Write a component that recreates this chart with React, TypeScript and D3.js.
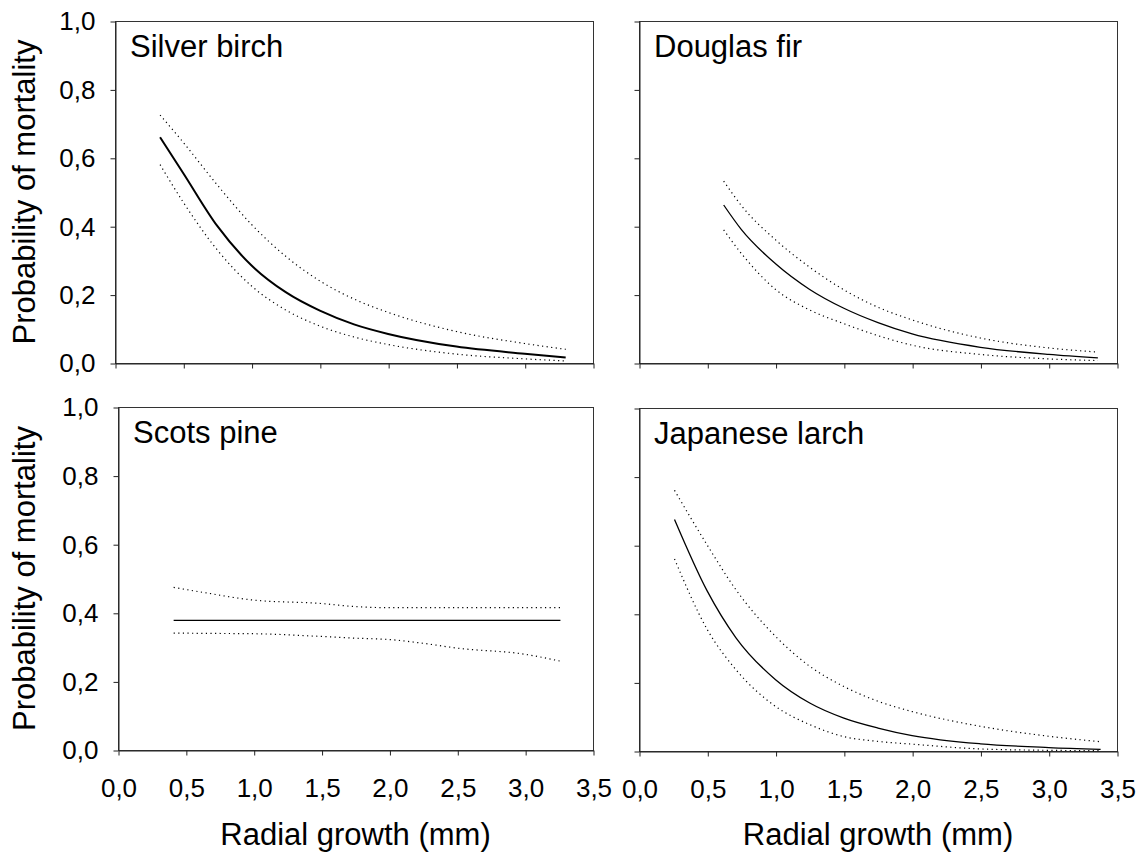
import { useEffect, useRef } from "react";
import * as d3 from "d3";

// panel titles, in reading order
const species = ["Silver birch", "Douglas fir", "Scots pine", "Japanese larch"];
const xTicks = [0, 0.5, 1, 1.5, 2, 2.5, 3, 3.5];
const yTicks = [0, 0.2, 0.4, 0.6, 0.8, 1];
const xTitle = "Radial growth (mm)";
const yTitle = "Probability of mortality";

// Silver birch
const birchX = [0.33, 0.5, 0.75, 1.0, 1.25, 1.5, 1.75, 2.0, 2.5, 3.0, 3.3];
const birchMean = [0.66, 0.555, 0.4, 0.285, 0.207, 0.153, 0.113, 0.085, 0.048, 0.027, 0.016];
const birchUpper = [0.725, 0.645, 0.52, 0.405, 0.312, 0.24, 0.187, 0.148, 0.092, 0.057, 0.04];
const birchLower = [0.58, 0.47, 0.33, 0.225, 0.155, 0.108, 0.076, 0.054, 0.026, 0.012, 0.006];

// Douglas fir
const firX = [0.62, 0.75, 1.0, 1.25, 1.5, 1.75, 2.0, 2.5, 3.0, 3.36];
const firMean = [0.462, 0.39, 0.29, 0.215, 0.16, 0.118, 0.085, 0.046, 0.025, 0.015];
const firUpper = [0.532, 0.46, 0.36, 0.28, 0.214, 0.163, 0.126, 0.073, 0.044, 0.032];
const firLower = [0.389, 0.32, 0.215, 0.155, 0.115, 0.08, 0.052, 0.025, 0.012, 0.007];

// Scots pine
const pineX = [0.41, 0.65, 1.0, 1.5, 1.75, 2.0, 2.25, 2.5, 3.0, 3.26];
const pineMean = [0.378, 0.378, 0.378, 0.378, 0.378, 0.378, 0.378, 0.378, 0.378, 0.378];
const pineUpper = [0.474, 0.458, 0.437, 0.427, 0.418, 0.415, 0.415, 0.415, 0.415, 0.415];
const pineLower = [0.341, 0.34, 0.339, 0.331, 0.326, 0.322, 0.311, 0.297, 0.279, 0.259];

// Japanese larch
const larchX = [0.26, 0.5, 0.71, 1.0, 1.25, 1.5, 1.75, 2.0, 2.5, 3.0, 3.38];
const larchMean = [0.675, 0.466, 0.33, 0.208, 0.14, 0.096, 0.067, 0.045, 0.021, 0.01, 0.005];
const larchUpper = [0.76, 0.6, 0.47, 0.334, 0.247, 0.188, 0.145, 0.115, 0.072, 0.043, 0.027];
const larchLower = [0.56, 0.354, 0.237, 0.13, 0.077, 0.042, 0.028, 0.02, 0.006, 0.002, 0.001];

const FONT = "Arial, 'Liberation Sans', sans-serif";

const App = () => {
  const ref = useRef<SVGSVGElement>(null);

  useEffect(() => {
    const svg = d3.select(ref.current);
    svg.selectAll("*").remove();

    const panels = [
      { name: species[0], xs: birchX, mean: birchMean, upper: birchUpper, lower: birchLower,
        box: { x0: 115, x1: 593, y0: 21, y1: 363 }, left: true, bottom: false, lw: 2 },
      { name: species[1], xs: firX, mean: firMean, upper: firUpper, lower: firLower,
        box: { x0: 639, x1: 1117, y0: 21, y1: 363 }, left: false, bottom: false, lw: 1.3 },
      { name: species[2], xs: pineX, mean: pineMean, upper: pineUpper, lower: pineLower,
        box: { x0: 118, x1: 593, y0: 407, y1: 750 }, left: true, bottom: true, lw: 1.3 },
      { name: species[3], xs: larchX, mean: larchMean, upper: larchUpper, lower: larchLower,
        box: { x0: 639, x1: 1117, y0: 408, y1: 751 }, left: false, bottom: true, lw: 1.3 },
    ];

    const fmt = (d: number) => d3.format(".1f")(d).replace(".", ",");

    panels.forEach(p => {
      const b = p.box;
      const x = d3.scaleLinear().domain([0, 3.5]).range([b.x0, b.x1]);
      const y = d3.scaleLinear().domain([0, 1]).range([b.y1, b.y0]);
      const g = svg.append("g");

      // frame
      g.append("rect")
        .attr("x", b.x0 + 0.5).attr("y", b.y0 + 0.5)
        .attr("width", b.x1 - b.x0).attr("height", b.y1 - b.y0)
        .attr("fill", "none").attr("stroke", "#333").attr("stroke-width", 1);

      const xa = g.append("g")
        .attr("transform", `translate(0.5,${b.y1 + 0.5})`)
        .call(d3.axisBottom(x).tickValues(xTicks).tickSize(5).tickSizeOuter(0).tickPadding(23)
          .tickFormat(p.bottom ? (d: any) => fmt(d) : () => ""));
      const ya = g.append("g")
        .attr("transform", `translate(${b.x0 + 0.5},0.5)`)
        .call(d3.axisLeft(y).tickValues(yTicks).tickSize(5).tickSizeOuter(0).tickPadding(15)
          .tickFormat(p.left ? (d: any) => fmt(d) : () => ""));
      [xa, ya].forEach(a => {
        a.attr("font-family", FONT).attr("font-size", 26);
        a.selectAll("path, line").attr("stroke", "#222");
        a.selectAll("text").attr("fill", "#000");
      });

      const line = d3.line<number>()
        .x((_, i) => x(p.xs[i]))
        .y(d => y(d))
        .curve(d3.curveMonotoneX);

      g.append("path").datum(p.mean)
        .attr("fill", "none").attr("stroke", "#000").attr("stroke-width", p.lw)
        .attr("d", line);
      [p.upper, p.lower].forEach(arr => {
        g.append("path").datum(arr)
          .attr("fill", "none").attr("stroke", "#000").attr("stroke-width", 1.2)
          .attr("stroke-dasharray", "1.2,3.4")
          .attr("d", line);
      });

      g.append("text")
        .attr("x", b.x0 + 15).attr("y", b.y0 + 36)
        .attr("font-family", FONT).attr("font-size", 31)
        .text(p.name);

      if (p.left) {
        g.append("text")
          .attr("transform", `translate(35,${(b.y0 + b.y1) / 2}) rotate(-90)`)
          .attr("text-anchor", "middle")
          .attr("font-family", FONT).attr("font-size", 31)
          .text(yTitle);
      }
      if (p.bottom) {
        g.append("text")
          .attr("x", (b.x0 + b.x1) / 2).attr("y", 845)
          .attr("text-anchor", "middle")
          .attr("font-family", FONT).attr("font-size", 31)
          .text(xTitle);
      }
    });
  }, []);

  return (
    <svg ref={ref} width={1138} height={853}
      style={{ position: "absolute", left: 0, top: 0, background: "#fff" }} />
  );
};

export default App;
